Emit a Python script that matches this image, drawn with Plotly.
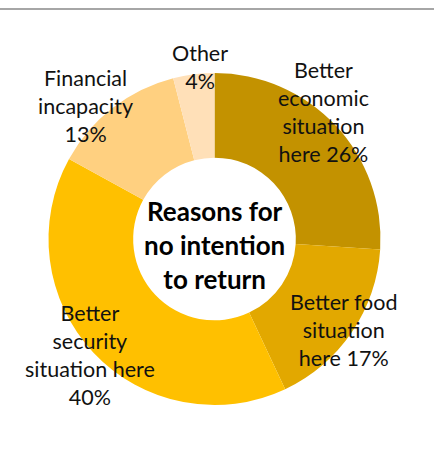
import plotly.graph_objects as go

W, H = 434, 466

categories = ["Better economic situation here", "Better food situation here",
              "Better security situation here", "Financial incapacity", "Other"]
values = [26, 17, 40, 13, 4]
colors = ["#C39200", "#E2A800", "#FFC000", "#FFD080", "#FFE0B8"]
label_texts = ["Better<br>economic<br>situation<br>here 26%",
               "Better food<br>situation<br>here 17%",
               "Better<br>security<br>situation here<br>40%",
               "Financial<br>incapacity<br>13%",
               "Other<br>4%"]
label_pos = [(323, 112), (343, 330), (90, 355), (85, 106), (200, 67)]
center_text = "<b>Reasons for<br>no intention<br>to return</b>"


def px(x):
    return x / W


def py(y):
    return (H - y) / H


cx, cy, r = 214.5, 239, 166

fig = go.Figure(go.Pie(
    labels=categories, values=values, sort=False, direction="clockwise",
    rotation=0, hole=0.49, textinfo="none", hoverinfo="label+percent",
    marker=dict(colors=colors, line=dict(width=0)),
    domain=dict(x=[px(cx - r), px(cx + r)], y=[py(cy + r), py(cy - r)]),
    showlegend=False,
))

font = dict(family="Lato, 'Open Sans', sans-serif", size=21.5, color="#111111")
for t, (x, y) in zip(label_texts, label_pos):
    fig.add_annotation(x=px(x), y=py(y), xref="paper", yref="paper", text=t,
                       showarrow=False, font=font, xanchor="center", yanchor="middle",
                       align="center")

fig.add_annotation(x=px(cx), y=py(245), xref="paper", yref="paper", text=center_text,
                   showarrow=False, font=dict(family="Lato, sans-serif", size=26, color="#000000"),
                   xanchor="center", yanchor="middle", align="center")

fig.add_shape(type="line", xref="paper", yref="paper", x0=0, x1=1, y0=py(9), y1=py(9),
              line=dict(color="#A6A6A6", width=2))

fig.update_layout(width=W, height=H, margin=dict(l=0, r=0, t=0, b=0),
                  paper_bgcolor="white", plot_bgcolor="white")

fig.write_html("out.html")
